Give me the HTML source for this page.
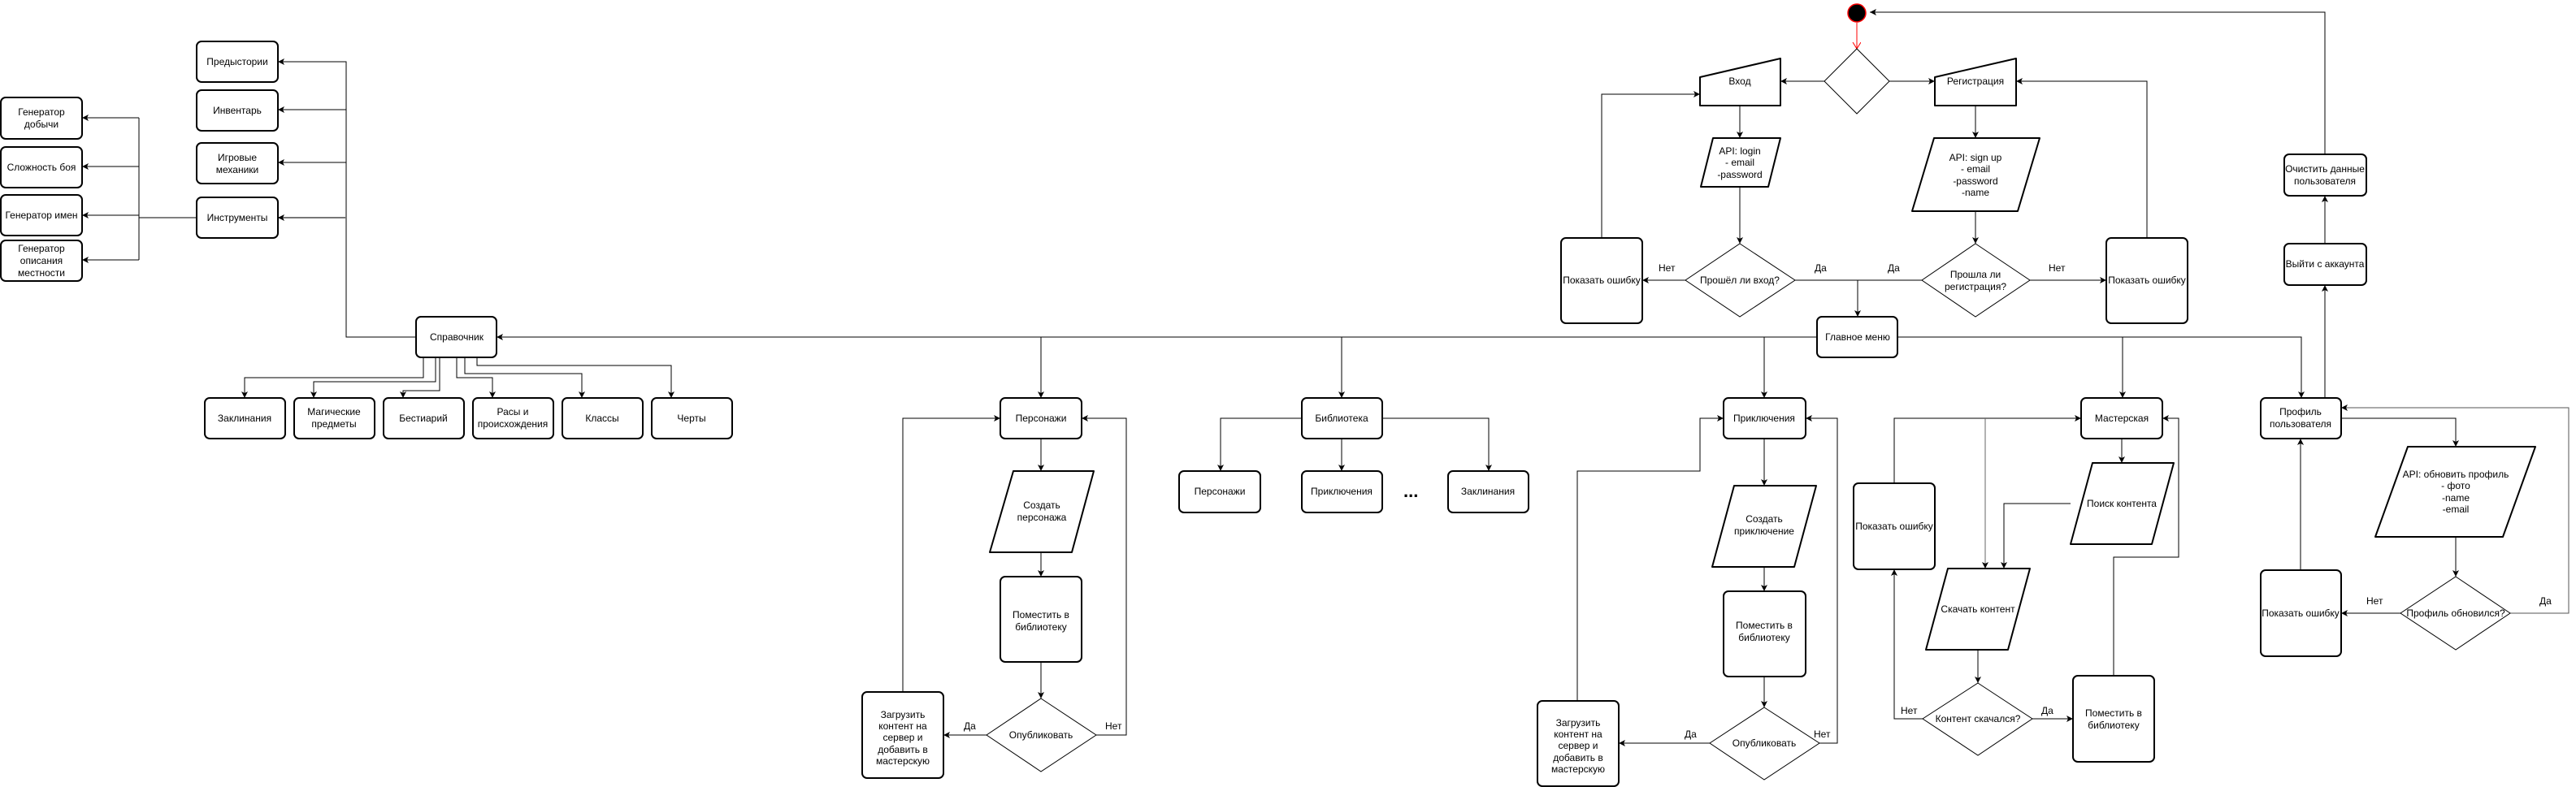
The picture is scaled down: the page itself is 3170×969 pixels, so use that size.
<!DOCTYPE html>
<html><head><meta charset="utf-8"><style>
html,body{margin:0;padding:0;background:#fff;}
svg{display:block;}
text{font-family:"Liberation Sans",Arial,sans-serif;font-size:12px;fill:#000;}
.b{fill:#fff;stroke:#000;stroke-width:2;}
.d{fill:#fff;stroke:#000;stroke-width:1;}
.c{fill:none;stroke:#000;stroke-width:1;}
</style></head><body>
<svg width="3170" height="969" viewBox="0 0 3170 969" xmlns="http://www.w3.org/2000/svg">
<defs>
<marker id="a" markerWidth="10" markerHeight="10" refX="8" refY="4" orient="auto" markerUnits="userSpaceOnUse"><path d="M0,0 L8,4 L0,8 L2,4 z" fill="#000"/></marker>
<marker id="r" markerWidth="12" markerHeight="12" refX="8" refY="5" orient="auto" markerUnits="userSpaceOnUse"><path d="M0,0 L8,5 L0,10" fill="none" stroke="#f00"/></marker>
</defs>
<g class="c" marker-end="url(#a)">
<!-- left section -->
<path d="M512,415 H426 V76 H342"/>
<path d="M426,135 H342"/><path d="M426,200 H342"/><path d="M426,268 H342" stroke="#777" stroke-width="2"/>
<path d="M171,145 H101"/><path d="M171,205 H101"/><path d="M171,265 H101"/><path d="M171,320 H101"/>
<path d="M521,440 V465 H301 V490"/><path d="M536,440 V470 H386 V490"/><path d="M541,440 V481 H496 V490"/>
<path d="M562,440 V465 H606 V490"/><path d="M572,440 V460 H716 V490"/><path d="M587,440 V450 H826 V490"/>
<!-- main -->
<path d="M2236,415 H611"/>
<path d="M1281,415 V490"/><path d="M1651,415 V490"/><path d="M2171,415 V490"/>
<path d="M2335,415 H2832 V490"/><path d="M2612,415 V490"/>
<!-- characters -->
<path d="M1281,540 V580"/><path d="M1281,680 V710"/><path d="M1281,815 V860"/>
<path d="M1214,905 H1161"/><path d="M1111,852 V515 H1231"/><path d="M1349,905 H1386 V515 H1331"/>
<!-- library -->
<path d="M1651,540 V580"/><path d="M1602,515 H1502 V580"/><path d="M1701,515 H1832 V580"/>
<!-- adventures -->
<path d="M2171,540 V598"/><path d="M2171,698 V728"/><path d="M2171,833 V871"/>
<path d="M2104,915 H1992"/><path d="M1941,863 V580 H2092 V515 H2121"/><path d="M2239,915 H2261 V515 H2222"/>
<!-- login -->
<path d="M2245,100 H2191"/><path d="M2325,100 H2381"/>
<path d="M2141,130 V170"/><path d="M2141,230 V300"/><path d="M2074,345 H2021"/><path d="M1971,293 V116 H2092"/>
<path d="M2286,345 V390"/>
<path d="M2431,130 V170"/><path d="M2431,260 V300"/><path d="M2498,345 H2592"/><path d="M2642,293 V100 H2481"/>
<path d="M2861,190 V15 H2301"/>
<!-- profile -->
<path d="M2861,490 V351"/><path d="M2861,300 V241"/>
<path d="M2881,515 H3022 V550"/><path d="M3022,661 V710"/><path d="M2954,755 H2881"/>
<path d="M3089,755 H3161 V502 H2881" stroke="#555"/><path d="M2831,702 V540"/>
<!-- workshop -->
<path d="M2611,540 V570"/><path d="M2548,620 H2466 V700"/><path d="M2331,595 V515 H2561"/>
<path d="M2443,515 V700" stroke="#666"/><path d="M2434,800 V841"/>
<path d="M2366,885 H2331 V701"/><path d="M2501,885 H2551"/><path d="M2601,832 V686 H2681 V515 H2661"/>
</g>
<path class="c" d="M242,268 H171 V145 M171,268 V320" stroke-width="2"/>
<path class="c" d="M2209,345 H2365"/>
<path d="M2285,28 V60" stroke="#f00" fill="none" marker-end="url(#r)"/>
<circle cx="2285" cy="16" r="11" fill="#000" stroke="#f00" stroke-width="1.5"/>

<!-- boxes -->
<g class="b">
<rect x="242" y="51" width="100" height="50" rx="6"/>
<rect x="242" y="111" width="100" height="50" rx="6"/>
<rect x="242" y="176" width="100" height="50" rx="6"/>
<rect x="242" y="243" width="100" height="50" rx="6"/>
<rect x="1" y="120" width="100" height="51" rx="6"/>
<rect x="1" y="181" width="100" height="50" rx="6"/>
<rect x="1" y="240" width="100" height="50" rx="6"/>
<rect x="1" y="296" width="100" height="50" rx="6"/>
<rect x="512" y="390" width="99" height="50" rx="6"/>
<rect x="252" y="490" width="99" height="50" rx="6"/>
<rect x="362" y="490" width="99" height="50" rx="6"/>
<rect x="472" y="490" width="99" height="50" rx="6"/>
<rect x="582" y="490" width="99" height="50" rx="6"/>
<rect x="692" y="490" width="99" height="50" rx="6"/>
<rect x="802" y="490" width="99" height="50" rx="6"/>
<rect x="1231" y="490" width="100" height="50" rx="6"/>
<rect x="1231" y="710" width="100" height="105" rx="6"/>
<rect x="1061" y="852" width="100" height="106" rx="6"/>
<rect x="1602" y="490" width="99" height="50" rx="6"/>
<rect x="1451" y="580" width="100" height="51" rx="6"/>
<rect x="1602" y="580" width="99" height="51" rx="6"/>
<rect x="1782" y="580" width="99" height="51" rx="6"/>
<rect x="2121" y="490" width="101" height="50" rx="6"/>
<rect x="2121" y="728" width="101" height="105" rx="6"/>
<rect x="1892" y="863" width="100" height="105" rx="6"/>
<rect x="1921" y="293" width="100" height="105" rx="6"/>
<rect x="2592" y="293" width="100" height="105" rx="6"/>
<rect x="2236" y="390" width="99" height="50" rx="6"/>
<rect x="2561" y="490" width="100" height="50" rx="6"/>
<rect x="2281" y="595" width="100" height="106" rx="6"/>
<rect x="2551" y="832" width="100" height="106" rx="6"/>
<rect x="2782" y="490" width="99" height="50" rx="6"/>
<rect x="2782" y="702" width="99" height="106" rx="6"/>
<rect x="2811" y="190" width="101" height="51" rx="6"/>
<rect x="2811" y="300" width="101" height="51" rx="6"/>
<path d="M1247,580 H1346 L1319,680 H1218 Z" stroke-linejoin="round"/>
<path d="M2108,170 H2191 L2176,230 H2093 Z" stroke-linejoin="round"/>
<path d="M2380,170 H2510 L2483,260 H2353 Z" stroke-linejoin="round"/>
<path d="M2575,570 H2675 L2648,670 H2548 Z" stroke-linejoin="round"/>
<path d="M2397,700 H2498 L2471,800 H2370 Z" stroke-linejoin="round"/>
<path d="M2134,598 H2235 L2208,698 H2107 Z" stroke-linejoin="round"/>
<path d="M2963,550 H3120 L3080,661 H2923 Z" stroke-linejoin="round"/>
<path d="M2092,95 L2191,72 V130 H2092 Z" stroke-linejoin="round"/>
<path d="M2381,95 L2481,72 V130 H2381 Z" stroke-linejoin="round"/>
</g>
<g class="d">
<path d="M1281,860 L1349,905 L1281,950 L1214,905 Z"/>
<path d="M2171,871 L2239,915 L2171,960 L2104,915 Z"/>
<path d="M2285,60 L2325,100 L2285,140 L2245,100 Z"/>
<path d="M2141,300 L2209,345 L2141,390 L2074,345 Z"/>
<path d="M2431,300 L2498,345 L2431,390 L2365,345 Z"/>
<path d="M2434,841 L2501,885 L2434,930 L2366,885 Z"/>
<path d="M3022,710 L3089,755 L3022,800 L2954,755 Z"/>
</g>

<g text-anchor="middle">
<text x="292" y="80">Предыстории</text>
<text x="292" y="140">Инвентарь</text>
<text x="292" y="198">Игровые</text><text x="292" y="213">механики</text>
<text x="292" y="272">Инструменты</text>
<text x="51" y="142">Генератор</text><text x="51" y="157">добычи</text>
<text x="51" y="210">Сложность боя</text>
<text x="51" y="269">Генератор имен</text>
<text x="51" y="310">Генератор</text><text x="51" y="325">описания</text><text x="51" y="340">местности</text>
<text x="562" y="419">Справочник</text>
<text x="301" y="519">Заклинания</text>
<text x="411" y="511">Магические</text><text x="411" y="526">предметы</text>
<text x="521" y="519">Бестиарий</text>
<text x="631" y="511">Расы и</text><text x="631" y="526">происхождения</text>
<text x="741" y="519">Классы</text>
<text x="851" y="519">Черты</text>
<text x="1281" y="519">Персонажи</text>
<text x="1282" y="626">Создать</text><text x="1282" y="641">персонажа</text>
<text x="1281" y="761">Поместить в</text><text x="1281" y="776">библиотеку</text>
<text x="1281" y="909">Опубликовать</text>
<text x="1111" y="884">Загрузить</text><text x="1111" y="898">контент на</text><text x="1111" y="912">сервер и</text><text x="1111" y="927">добавить в</text><text x="1111" y="941">мастерскую</text>
<text x="1651" y="519">Библиотека</text>
<text x="1501" y="609">Персонажи</text>
<text x="1651" y="609">Приключения</text>
<text x="1831" y="609">Заклинания</text>
<text x="2171" y="519">Приключения</text>
<text x="2171" y="643">Создать</text><text x="2171" y="658">приключение</text>
<text x="2171" y="774">Поместить в</text><text x="2171" y="789">библиотеку</text>
<text x="2171" y="919">Опубликовать</text>
<text x="1942" y="894">Загрузить</text><text x="1942" y="908">контент на</text><text x="1942" y="922">сервер и</text><text x="1942" y="937">добавить в</text><text x="1942" y="951">мастерскую</text>
<text x="2141" y="104">Вход</text>
<text x="2431" y="104">Регистрация</text>
<text x="2141" y="190">API: login</text><text x="2141" y="204">- email</text><text x="2141" y="219">-password</text>
<text x="2431" y="198">API: sign up</text><text x="2431" y="212">- email</text><text x="2431" y="227">-password</text><text x="2431" y="241">-name</text>
<text x="2141" y="349">Прошёл ли вход?</text>
<text x="2431" y="342">Прошла ли</text><text x="2431" y="357">регистрация?</text>
<text x="1971" y="349">Показать ошибку</text>
<text x="2642" y="349">Показать ошибку</text>
<text x="2286" y="419">Главное меню</text>
<text x="2611" y="519">Мастерская</text>
<text x="2611" y="624">Поиск контента</text>
<text x="2434" y="754">Скачать контент</text>
<text x="2434" y="889">Контент скачался?</text>
<text x="2331" y="652">Показать ошибку</text>
<text x="2601" y="882">Поместить в</text><text x="2601" y="897">библиотеку</text>
<text x="2831" y="511">Профиль</text><text x="2831" y="526">пользователя</text>
<text x="3022" y="588">API: обновить профиль</text><text x="3022" y="602">- фото</text><text x="3022" y="617">-name</text><text x="3022" y="631">-email</text>
<text x="3022" y="759">Профиль обновился?</text>
<text x="2831" y="759">Показать ошибку</text>
<text x="2861" y="212">Очистить данные</text><text x="2861" y="227">пользователя</text>
<text x="2861" y="329">Выйти с аккаунта</text>
</g>
<g>
<text x="1186" y="898">Да</text><text x="1360" y="898">Нет</text>
<text x="2073" y="908">Да</text><text x="2232" y="908">Нет</text>
<text x="2041" y="334">Нет</text><text x="2233" y="334">Да</text><text x="2323" y="334">Да</text><text x="2521" y="334">Нет</text>
<text x="2339" y="879">Нет</text><text x="2512" y="879">Да</text>
<text x="2912" y="744">Нет</text><text x="3125" y="744">Да</text>
<text x="1727" y="612" style="font-size:22px;font-weight:bold">...</text>
</g>
</svg>
</body></html>
